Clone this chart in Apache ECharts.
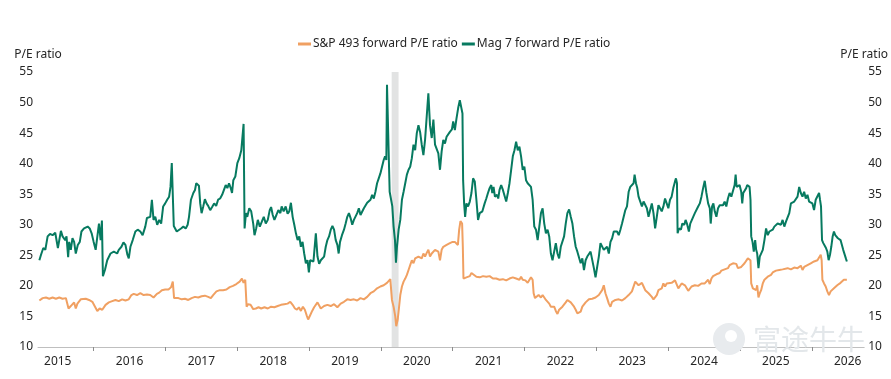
<!DOCTYPE html>
<html>

<head>
  <meta charset="utf-8" />
  <title>S&amp;P 493 vs Mag 7 forward P/E</title>
  <script src="https://cdn.jsdelivr.net/npm/echarts@6/dist/echarts.min.js"></script>
</head>

<body style="margin:0;background:#fff;">
  <div id="pe" style="width:891px;height:379px;"></div>
  <script type="text/javascript">

    // Forward P/E, [decimal year, ratio]
    let mag7Data = [
      [2015.244, 24.2], [2015.267, 25.1], [2015.299, 26.2], [2015.327, 25.9], [2015.359, 28.1], [2015.392, 28.5],
      [2015.428, 28.3], [2015.465, 28.7], [2015.484, 28.9], [2015.502, 26.2], [2015.521, 26.4], [2015.544, 29.0],
      [2015.567, 28.1], [2015.604, 27.5], [2015.622, 28.1], [2015.645, 24.7], [2015.659, 27.2], [2015.682, 25.9],
      [2015.705, 27.8], [2015.728, 27.2], [2015.751, 25.3], [2015.779, 26.7], [2015.807, 27.2], [2015.830, 28.9],
      [2015.866, 29.4], [2015.890, 29.2], [2015.917, 29.7], [2015.945, 29.4], [2015.972, 28.6], [2016.000, 27.2],
      [2016.028, 25.9], [2016.055, 25.6], [2016.074, 30.2], [2016.097, 27.5], [2016.115, 30.7], [2016.129, 21.6],
      [2016.157, 22.6], [2016.189, 24.2], [2016.235, 25.3], [2016.281, 25.6], [2016.327, 25.3], [2016.350, 25.9],
      [2016.387, 26.4], [2016.415, 27.1], [2016.443, 26.7], [2016.470, 25.1], [2016.489, 24.5], [2016.512, 26.4],
      [2016.544, 27.5], [2016.581, 28.9], [2016.613, 29.2], [2016.650, 28.9], [2016.682, 28.3], [2016.719, 29.7],
      [2016.742, 31.1], [2016.765, 30.8], [2016.788, 31.3], [2016.811, 34.1], [2016.834, 30.8], [2016.858, 31.3],
      [2016.885, 30.0], [2016.913, 30.8], [2016.940, 30.2], [2016.968, 33.0], [2016.996, 33.5], [2017.024, 34.1],
      [2017.051, 34.6], [2017.070, 36.2], [2017.088, 40.1], [2017.102, 40.3], [2017.116, 29.8], [2017.134, 29.7],
      [2017.157, 28.9], [2017.180, 28.6], [2017.217, 29.4], [2017.249, 29.7], [2017.282, 29.4], [2017.309, 30.0],
      [2017.328, 31.3], [2017.355, 34.1], [2017.388, 35.2], [2017.411, 35.7], [2017.429, 36.8], [2017.447, 37.1],
      [2017.466, 36.4], [2017.484, 33.5], [2017.503, 31.9], [2017.526, 33.0], [2017.549, 34.2], [2017.572, 33.5],
      [2017.595, 33.1], [2017.623, 32.4], [2017.650, 32.9], [2017.678, 33.5], [2017.706, 33.1], [2017.733, 34.1],
      [2017.761, 34.3], [2017.789, 34.9], [2017.816, 35.2], [2017.839, 36.5], [2017.862, 36.0], [2017.885, 36.8],
      [2017.909, 36.0], [2017.927, 35.2], [2017.945, 37.3], [2017.973, 37.9], [2018.001, 40.1], [2018.028, 40.9],
      [2018.056, 42.2], [2018.074, 42.5], [2018.088, 46.5], [2018.102, 29.4], [2018.121, 31.9], [2018.139, 31.3],
      [2018.167, 32.7], [2018.194, 32.2], [2018.222, 30.2], [2018.240, 28.3], [2018.263, 29.4], [2018.286, 30.8],
      [2018.314, 29.7], [2018.342, 30.5], [2018.369, 31.3], [2018.397, 30.2], [2018.425, 30.8], [2018.452, 32.4],
      [2018.471, 32.9], [2018.494, 31.6], [2018.517, 30.8], [2018.545, 31.6], [2018.572, 32.4], [2018.600, 31.9],
      [2018.618, 33.0], [2018.646, 32.2], [2018.674, 33.0], [2018.701, 31.8], [2018.724, 32.2], [2018.747, 33.6],
      [2018.771, 31.3], [2018.794, 30.0], [2018.817, 28.6], [2018.840, 27.5], [2018.863, 28.1], [2018.886, 26.4],
      [2018.909, 27.2], [2018.932, 25.3], [2018.955, 23.7], [2018.978, 24.2], [2018.997, 22.2], [2019.015, 24.2],
      [2019.034, 24.5], [2019.061, 24.0], [2019.094, 28.6], [2019.117, 24.8], [2019.140, 23.6], [2019.163, 24.2],
      [2019.186, 24.0], [2019.209, 24.8], [2019.232, 26.4], [2019.255, 27.5], [2019.278, 28.1], [2019.302, 29.2],
      [2019.325, 29.8], [2019.348, 29.2], [2019.371, 27.5], [2019.394, 26.7], [2019.412, 25.3], [2019.431, 27.2],
      [2019.458, 28.3], [2019.486, 29.2], [2019.509, 30.2], [2019.532, 31.3], [2019.555, 31.9], [2019.578, 31.1],
      [2019.601, 30.0], [2019.624, 30.8], [2019.647, 30.5], [2019.670, 31.9], [2019.693, 32.7], [2019.716, 31.6],
      [2019.739, 31.9], [2019.763, 32.7], [2019.786, 33.0], [2019.809, 33.6], [2019.832, 33.8], [2019.855, 34.1],
      [2019.878, 34.9], [2019.901, 34.3], [2019.924, 35.4], [2019.947, 36.8], [2019.970, 37.6], [2019.993, 38.4],
      [2020.016, 39.5], [2020.039, 40.6], [2020.058, 41.2], [2020.076, 40.6], [2020.085, 52.9], [2020.108, 52.6],
      [2020.122, 35.4], [2020.141, 35.2], [2020.159, 33.0], [2020.177, 29.7], [2020.196, 27.5], [2020.210, 23.8],
      [2020.224, 26.4], [2020.247, 29.2], [2020.270, 30.8], [2020.293, 34.1], [2020.316, 35.4], [2020.339, 36.8],
      [2020.362, 38.2], [2020.385, 39.0], [2020.408, 39.5], [2020.431, 40.9], [2020.454, 43.1], [2020.477, 42.2],
      [2020.500, 45.0], [2020.523, 46.3], [2020.546, 45.2], [2020.569, 43.1], [2020.592, 41.4], [2020.615, 43.9],
      [2020.638, 47.7], [2020.661, 51.5], [2020.684, 46.3], [2020.708, 44.2], [2020.731, 47.2], [2020.754, 43.1],
      [2020.777, 42.8], [2020.800, 41.7], [2020.823, 39.0], [2020.846, 42.0], [2020.869, 43.9], [2020.892, 43.3],
      [2020.915, 44.4], [2020.938, 44.7], [2020.961, 45.2], [2020.989, 45.6], [2021.007, 46.9], [2021.030, 45.5],
      [2021.053, 47.4], [2021.076, 49.1], [2021.099, 50.4], [2021.122, 50.2], [2021.136, 48.2], [2021.145, 37.3],
      [2021.159, 33.5], [2021.173, 31.3], [2021.191, 33.5], [2021.214, 33.0], [2021.238, 33.8], [2021.261, 35.2],
      [2021.284, 37.6], [2021.307, 37.1], [2021.330, 34.1], [2021.353, 30.8], [2021.376, 31.9], [2021.413, 32.2],
      [2021.445, 33.5], [2021.468, 34.3], [2021.491, 35.2], [2021.514, 36.0], [2021.537, 36.5], [2021.551, 35.2],
      [2021.569, 36.2], [2021.588, 34.6], [2021.616, 34.9], [2021.634, 34.3], [2021.652, 35.7], [2021.675, 36.5],
      [2021.699, 35.7], [2021.722, 35.4], [2021.745, 33.8], [2021.768, 35.2], [2021.791, 36.8], [2021.814, 39.0],
      [2021.837, 41.2], [2021.860, 42.2], [2021.883, 43.6], [2021.906, 42.2], [2021.929, 42.8], [2021.952, 41.2],
      [2021.975, 39.0], [2021.998, 39.5], [2022.021, 37.3], [2022.044, 36.8], [2022.067, 36.5], [2022.090, 36.2],
      [2022.113, 34.1], [2022.136, 29.7], [2022.160, 29.2], [2022.183, 27.5], [2022.206, 29.7], [2022.229, 31.9],
      [2022.252, 32.7], [2022.275, 30.2], [2022.298, 28.6], [2022.321, 29.2], [2022.344, 28.1], [2022.367, 25.3],
      [2022.390, 24.2], [2022.413, 25.6], [2022.436, 27.0], [2022.459, 25.3], [2022.482, 24.5], [2022.505, 26.4],
      [2022.528, 26.7], [2022.551, 28.1], [2022.574, 30.2], [2022.597, 31.9], [2022.621, 32.5], [2022.644, 31.3],
      [2022.667, 30.2], [2022.690, 28.1], [2022.713, 26.4], [2022.736, 25.6], [2022.759, 25.3], [2022.782, 23.7],
      [2022.805, 24.5], [2022.828, 22.6], [2022.851, 24.2], [2022.874, 24.8], [2022.897, 24.5], [2022.920, 25.6],
      [2022.943, 25.3], [2022.966, 22.9], [2022.989, 21.4], [2023.012, 23.1], [2023.035, 24.8], [2023.058, 27.0],
      [2023.081, 26.7], [2023.104, 25.9], [2023.127, 25.6], [2023.150, 26.4], [2023.174, 25.3], [2023.197, 27.2],
      [2023.220, 27.8], [2023.243, 28.9], [2023.266, 28.6], [2023.289, 28.9], [2023.312, 28.3], [2023.335, 29.2],
      [2023.358, 30.2], [2023.381, 31.3], [2023.404, 32.4], [2023.427, 33.0], [2023.450, 35.4], [2023.473, 36.2],
      [2023.496, 36.0], [2023.519, 36.8], [2023.533, 38.2], [2023.552, 36.8], [2023.570, 36.0], [2023.588, 34.6],
      [2023.611, 34.9], [2023.635, 33.0], [2023.658, 33.8], [2023.681, 34.1], [2023.704, 32.7], [2023.727, 31.3],
      [2023.750, 32.4], [2023.773, 33.5], [2023.796, 31.9], [2023.819, 29.4], [2023.842, 31.3], [2023.865, 33.2],
      [2023.888, 33.5], [2023.911, 32.2], [2023.934, 33.0], [2023.957, 34.3], [2023.980, 33.5], [2024.003, 32.7],
      [2024.026, 34.1], [2024.049, 34.6], [2024.072, 36.0], [2024.096, 37.1], [2024.109, 37.6], [2024.123, 36.8],
      [2024.132, 28.6], [2024.151, 29.4], [2024.179, 29.2], [2024.197, 30.2], [2024.225, 30.0], [2024.243, 30.8],
      [2024.262, 30.2], [2024.289, 28.9], [2024.308, 30.2], [2024.326, 30.5], [2024.349, 31.3], [2024.372, 31.9],
      [2024.395, 31.6], [2024.418, 33.0], [2024.441, 33.5], [2024.464, 34.6], [2024.487, 36.0], [2024.510, 37.2],
      [2024.533, 35.2], [2024.557, 33.5], [2024.580, 32.7], [2024.593, 30.2], [2024.612, 33.0], [2024.630, 33.5],
      [2024.649, 32.2], [2024.672, 31.3], [2024.695, 32.7], [2024.718, 33.2], [2024.741, 33.0], [2024.764, 33.2],
      [2024.787, 33.8], [2024.810, 33.0], [2024.833, 34.3], [2024.856, 35.2], [2024.880, 34.6], [2024.903, 34.9],
      [2024.926, 36.5], [2024.940, 38.2], [2024.954, 36.2], [2024.972, 36.0], [2024.995, 36.5], [2025.018, 35.4],
      [2025.032, 33.5], [2025.046, 35.2], [2025.064, 35.4], [2025.087, 36.0], [2025.101, 36.5], [2025.120, 36.8],
      [2025.134, 36.2], [2025.147, 34.1], [2025.157, 28.1], [2025.175, 27.2], [2025.193, 25.6], [2025.212, 27.5],
      [2025.226, 25.9], [2025.240, 25.3], [2025.258, 22.9], [2025.276, 24.8], [2025.295, 24.5], [2025.318, 25.9],
      [2025.341, 27.5], [2025.364, 29.4], [2025.387, 28.3], [2025.410, 28.9], [2025.433, 28.6], [2025.456, 29.2],
      [2025.479, 29.7], [2025.502, 29.4], [2025.525, 30.2], [2025.548, 30.5], [2025.571, 30.0], [2025.594, 30.8],
      [2025.618, 29.7], [2025.641, 30.5], [2025.664, 30.2], [2025.687, 31.9], [2025.710, 33.5], [2025.733, 33.2],
      [2025.756, 33.8], [2025.779, 33.5], [2025.802, 34.6], [2025.825, 36.2], [2025.848, 35.2], [2025.871, 34.6],
      [2025.894, 35.4], [2025.917, 34.3], [2025.940, 34.9], [2025.963, 33.8], [2025.986, 34.1], [2026.009, 33.5],
      [2026.032, 32.4], [2026.055, 34.1], [2026.079, 34.3], [2026.102, 35.2], [2026.115, 34.1], [2026.129, 33.0],
      [2026.143, 27.5], [2026.161, 27.0], [2026.180, 27.2], [2026.198, 26.2], [2026.217, 25.6], [2026.235, 24.2],
      [2026.254, 25.1], [2026.272, 26.4], [2026.291, 28.1], [2026.309, 28.9], [2026.327, 28.3], [2026.346, 28.6],
      [2026.364, 27.8], [2026.383, 28.1], [2026.401, 27.5], [2026.424, 27.2], [2026.438, 25.9], [2026.457, 25.6],
      [2026.475, 24.5], [2026.489, 24.0]
    ];

    let sp493Data = [
      [2015.244, 17.6], [2015.290, 18.0], [2015.336, 18.1], [2015.382, 17.9], [2015.428, 18.1], [2015.475, 17.9],
      [2015.521, 18.1], [2015.567, 17.9], [2015.613, 18.0], [2015.636, 17.8], [2015.650, 16.3], [2015.682, 16.7],
      [2015.705, 16.5], [2015.728, 17.3], [2015.751, 16.3], [2015.774, 17.1], [2015.820, 17.8], [2015.843, 18.0],
      [2015.890, 17.9], [2015.936, 17.7], [2015.982, 17.4], [2016.019, 16.6], [2016.051, 15.9], [2016.083, 16.3],
      [2016.120, 16.1], [2016.166, 16.9], [2016.212, 17.3], [2016.258, 17.5], [2016.304, 17.7], [2016.350, 17.5],
      [2016.396, 17.8], [2016.443, 17.6], [2016.489, 17.8], [2016.526, 18.5], [2016.558, 18.7], [2016.604, 18.5],
      [2016.650, 18.8], [2016.696, 18.5], [2016.742, 18.6], [2016.788, 18.5], [2016.834, 18.1], [2016.858, 17.9],
      [2016.881, 18.7], [2016.913, 18.9], [2016.950, 19.3], [2016.996, 19.4], [2017.042, 19.4], [2017.079, 19.8],
      [2017.102, 20.7], [2017.120, 18.0], [2017.134, 18.1], [2017.180, 18.0], [2017.226, 17.8], [2017.272, 17.9],
      [2017.318, 17.7], [2017.364, 18.0], [2017.411, 18.2], [2017.457, 18.1], [2017.503, 18.3], [2017.549, 18.4],
      [2017.595, 18.2], [2017.632, 18.0], [2017.664, 18.5], [2017.710, 19.1], [2017.757, 19.3], [2017.803, 19.3],
      [2017.849, 19.4], [2017.895, 19.8], [2017.941, 20.0], [2017.987, 20.3], [2018.033, 20.7], [2018.065, 21.2],
      [2018.088, 20.5], [2018.111, 21.0], [2018.130, 16.6], [2018.148, 17.0], [2018.185, 16.9], [2018.222, 16.2],
      [2018.259, 16.3], [2018.296, 16.5], [2018.333, 16.3], [2018.379, 16.5], [2018.425, 16.3], [2018.471, 16.6],
      [2018.517, 16.5], [2018.563, 16.7], [2018.609, 16.9], [2018.655, 17.0], [2018.701, 17.1], [2018.738, 17.4],
      [2018.771, 16.9], [2018.803, 16.3], [2018.831, 16.1], [2018.858, 16.5], [2018.886, 15.9], [2018.914, 16.6],
      [2018.941, 16.1], [2018.969, 15.1], [2018.987, 14.5], [2019.015, 15.2], [2019.043, 15.9], [2019.070, 16.5],
      [2019.117, 17.3], [2019.163, 16.3], [2019.209, 16.7], [2019.255, 16.9], [2019.302, 16.7], [2019.348, 17.0],
      [2019.394, 16.5], [2019.440, 17.1], [2019.486, 17.4], [2019.532, 17.8], [2019.578, 17.7], [2019.624, 17.8],
      [2019.670, 17.6], [2019.716, 18.0], [2019.763, 17.8], [2019.809, 18.2], [2019.855, 18.8], [2019.901, 19.1],
      [2019.947, 19.6], [2019.993, 19.9], [2020.039, 20.1], [2020.085, 20.5], [2020.131, 21.1], [2020.154, 17.7],
      [2020.177, 16.6], [2020.200, 15.0], [2020.214, 13.4], [2020.233, 14.4], [2020.251, 16.3], [2020.270, 18.5],
      [2020.293, 19.9], [2020.316, 20.7], [2020.339, 21.2], [2020.362, 21.8], [2020.385, 22.6], [2020.408, 23.4],
      [2020.431, 24.2], [2020.454, 23.7], [2020.477, 24.5], [2020.500, 24.2], [2020.523, 24.8], [2020.546, 25.1],
      [2020.569, 24.5], [2020.592, 25.3], [2020.615, 24.8], [2020.638, 25.4], [2020.661, 25.9], [2020.684, 24.8],
      [2020.708, 25.3], [2020.731, 25.6], [2020.754, 25.9], [2020.777, 26.2], [2020.800, 25.6], [2020.823, 24.2],
      [2020.846, 25.9], [2020.869, 26.4], [2020.915, 26.7], [2020.961, 27.0], [2020.998, 27.2], [2021.030, 27.2],
      [2021.053, 27.5], [2021.072, 26.7], [2021.090, 29.2], [2021.108, 30.6], [2021.131, 30.2], [2021.141, 26.4],
      [2021.150, 21.2], [2021.168, 21.0], [2021.191, 21.4], [2021.238, 21.6], [2021.261, 22.1], [2021.284, 21.8],
      [2021.330, 21.5], [2021.376, 21.4], [2021.422, 21.6], [2021.468, 21.5], [2021.514, 21.6], [2021.560, 21.2],
      [2021.606, 21.2], [2021.652, 21.0], [2021.699, 21.1], [2021.745, 20.9], [2021.791, 21.2], [2021.837, 21.4],
      [2021.883, 21.2], [2021.929, 21.0], [2021.952, 21.5], [2021.975, 21.0], [2022.012, 20.9], [2022.044, 20.5],
      [2022.067, 20.7], [2022.090, 21.4], [2022.113, 21.0], [2022.127, 18.8], [2022.146, 18.0], [2022.169, 18.1],
      [2022.196, 18.5], [2022.229, 18.1], [2022.252, 18.5], [2022.275, 18.1], [2022.298, 17.7], [2022.321, 17.8],
      [2022.344, 17.1], [2022.367, 16.6], [2022.390, 16.9], [2022.413, 16.6], [2022.436, 15.9], [2022.459, 15.4],
      [2022.482, 16.1], [2022.505, 16.3], [2022.528, 16.6], [2022.551, 16.9], [2022.574, 17.3], [2022.597, 17.7],
      [2022.621, 18.0], [2022.644, 17.3], [2022.667, 17.0], [2022.690, 16.6], [2022.713, 16.1], [2022.736, 15.5],
      [2022.759, 15.4], [2022.782, 15.8], [2022.805, 16.6], [2022.828, 16.9], [2022.851, 17.3], [2022.874, 17.4],
      [2022.897, 17.8], [2022.920, 18.1], [2022.943, 17.9], [2022.989, 18.1], [2023.035, 18.5], [2023.081, 19.3],
      [2023.104, 20.1], [2023.127, 18.8], [2023.150, 18.0], [2023.174, 17.1], [2023.197, 16.6], [2023.220, 17.4],
      [2023.243, 17.7], [2023.266, 17.7], [2023.312, 17.8], [2023.358, 17.6], [2023.404, 18.0], [2023.427, 18.0],
      [2023.450, 18.5], [2023.473, 18.5], [2023.496, 19.1], [2023.542, 20.7], [2023.565, 21.0], [2023.588, 20.1],
      [2023.611, 20.1], [2023.635, 20.5], [2023.658, 19.9], [2023.681, 19.3], [2023.704, 19.1], [2023.727, 18.8],
      [2023.750, 18.5], [2023.773, 18.2], [2023.796, 17.8], [2023.819, 17.6], [2023.842, 18.5], [2023.865, 19.3],
      [2023.888, 19.1], [2023.911, 19.6], [2023.934, 20.4], [2023.957, 19.9], [2023.980, 20.4], [2024.003, 20.1],
      [2024.049, 20.5], [2024.096, 20.9], [2024.119, 21.0], [2024.142, 19.6], [2024.165, 19.9], [2024.188, 20.4],
      [2024.211, 20.5], [2024.234, 20.1], [2024.257, 19.9], [2024.280, 19.2], [2024.303, 19.3], [2024.326, 19.9],
      [2024.349, 19.8], [2024.372, 20.1], [2024.418, 20.0], [2024.464, 20.4], [2024.510, 20.4], [2024.533, 20.7],
      [2024.557, 21.0], [2024.580, 20.3], [2024.603, 21.2], [2024.626, 21.6], [2024.649, 21.8], [2024.672, 21.9],
      [2024.695, 22.2], [2024.718, 22.1], [2024.741, 22.5], [2024.764, 22.3], [2024.787, 22.7], [2024.810, 22.6],
      [2024.833, 22.9], [2024.856, 23.4], [2024.880, 23.1], [2024.903, 23.7], [2024.926, 23.4], [2024.949, 23.6],
      [2024.972, 22.9], [2024.995, 22.6], [2025.018, 23.1], [2025.041, 22.9], [2025.064, 23.7], [2025.087, 24.0],
      [2025.110, 24.5], [2025.134, 24.7], [2025.147, 24.2], [2025.157, 20.4], [2025.180, 19.6], [2025.203, 19.9],
      [2025.226, 19.3], [2025.240, 20.1], [2025.258, 18.1], [2025.276, 18.8], [2025.295, 19.3], [2025.318, 20.4],
      [2025.341, 21.0], [2025.364, 21.2], [2025.387, 21.5], [2025.410, 21.8], [2025.433, 21.8], [2025.456, 22.2],
      [2025.479, 22.1], [2025.502, 22.5], [2025.525, 22.3], [2025.548, 22.6], [2025.571, 22.3], [2025.594, 22.7],
      [2025.618, 22.6], [2025.664, 22.9], [2025.710, 22.7], [2025.756, 23.0], [2025.802, 22.9], [2025.848, 23.3],
      [2025.871, 22.6], [2025.894, 23.1], [2025.940, 23.4], [2025.986, 23.7], [2026.032, 24.0], [2026.079, 24.2],
      [2026.102, 24.5], [2026.125, 25.1], [2026.138, 24.2], [2026.148, 21.0], [2026.171, 20.4], [2026.194, 19.9],
      [2026.217, 19.1], [2026.240, 18.5], [2026.263, 19.1], [2026.286, 19.3], [2026.309, 19.6], [2026.332, 19.9],
      [2026.355, 20.1], [2026.378, 20.0], [2026.401, 20.5], [2026.424, 20.7], [2026.447, 21.0], [2026.470, 21.2],
      [2026.489, 21.0]
    ];

    // Year boundaries carry the ticks, labels sit mid-year
    let yearTicks = [2016, 2017, 2018, 2019, 2020, 2021, 2022, 2023, 2024, 2025, 2026];
    let yearLabels = [2015.5, 2016.5, 2017.5, 2018.5, 2019.5, 2020.5, 2021.5, 2022.5, 2023.5, 2024.5, 2025.5, 2026.5];
    // Shaded period (early 2020)
    let shadedPeriod = [2020.150, 2020.246];

    var chart = echarts.init(document.getElementById('pe'));

    var font = 'Noto Sans';
    var textColor = '#262626';

    function peAxis(position) {
      return {
        type: 'value',
        position: position,
        name: 'P/E ratio',
        nameLocation: 'end',
        nameGap: 11,
        nameTextStyle: { color: textColor, fontSize: 12, fontFamily: font, align: 'center' },
        min: 10,
        max: 55,
        interval: 5,
        axisLine: { show: false },
        axisTick: { show: false },
        splitLine: { show: false },
        axisLabel: { color: textColor, fontSize: 12, fontFamily: font, margin: position === 'left' ? 5 : 4 }
      };
    }

    var option = {
      animation: false,
      legend: {
        top: 33,
        left: 293,
        icon: 'rect',
        itemWidth: 13,
        itemHeight: 3,
        itemGap: 4,
        textStyle: { color: textColor, fontSize: 12, fontFamily: font, padding: [0, 0, 0, -3] }
      },
      grid: {
        left: 38,
        right: 21,
        top: 72,
        bottom: 32
      },
      xAxis: {
        type: 'value',
        min: 2015.225,
        max: 2026.73,
        splitLine: { show: false },
        axisLine: { lineStyle: { color: '#bfbfbf', width: 1 } },
        axisTick: {
          show: true,
          length: 4,
          customValues: yearTicks,
          lineStyle: { color: '#8c8c8c' }
        },
        axisLabel: {
          color: textColor,
          fontSize: 12,
          fontFamily: font,
          margin: 9,
          customValues: yearLabels,
          formatter: function (v) { return String(Math.floor(v)); }
        }
      },
      yAxis: [peAxis('left'), peAxis('right')],
      // watermark, bottom right
      graphic: [
        {
          type: 'circle',
          shape: { cx: 729, cy: 339, r: 16 },
          style: { fill: '#e8ebee' },
          z: 1
        },
        {
          type: 'circle',
          shape: { cx: 731, cy: 336, r: 6 },
          style: { fill: '#ffffff' },
          z: 1
        },
        {
          type: 'text',
          left: 753,
          top: 325,
          style: {
            text: '富途牛牛',
            fill: '#e3e7ea',
            fontSize: 28,
            fontFamily: 'Noto Sans CJK SC'
          },
          z: 1
        }
      ],
      series: [
        {
          name: 'S&P 493 forward P/E ratio',
          type: 'line',
          data: sp493Data,
          showSymbol: false,
          color: '#F0A062',
          lineStyle: { width: 2 },
          z: 3,
          markArea: {
            silent: true,
            itemStyle: { color: '#e2e3e3' },
            data: [[{ xAxis: shadedPeriod[0] }, { xAxis: shadedPeriod[1] }]]
          }
        },
        {
          name: 'Mag 7 forward P/E ratio',
          type: 'line',
          data: mag7Data,
          showSymbol: false,
          color: '#077A60',
          lineStyle: { width: 2 },
          z: 4
        }
      ]
    };

    chart.setOption(option);
  </script>
</body>

</html>
